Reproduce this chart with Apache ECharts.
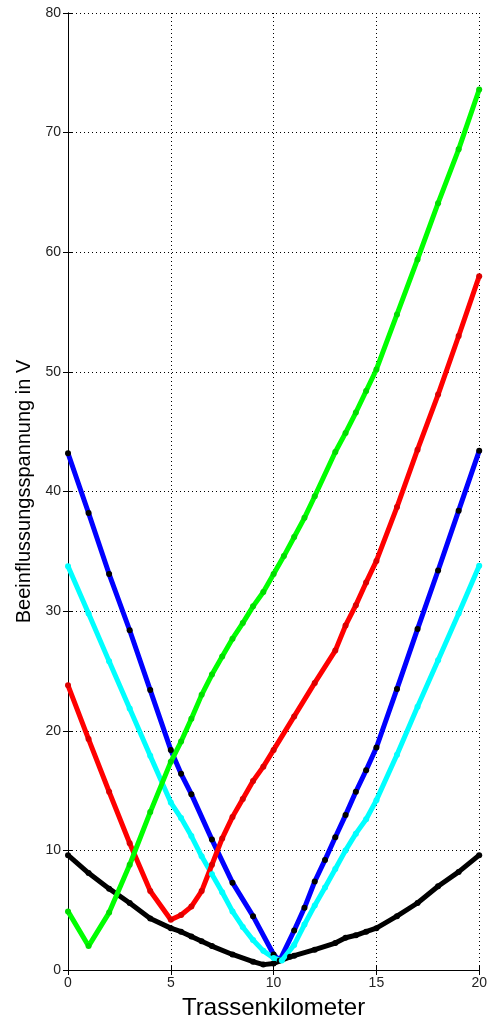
<!DOCTYPE html>
<html>
<head>
<meta charset="utf-8">
<script src="https://cdn.jsdelivr.net/npm/echarts@6/dist/echarts.min.js"></script>
<style>
  html, body { margin: 0; padding: 0; background: #fff; }
  #main { width: 490px; height: 1025px; }
</style>
</head>
<body>
<div id="main"></div>
<script>
// Messwerte je Leiter (km-Position und Spannung in V)
const blackKm = [0, 1, 2, 3, 4, 5, 5.5, 6, 6.5, 7, 8, 9, 9.5, 10, 10.8, 11, 12, 13, 13.5, 14, 14.5, 15, 16, 17, 18, 19, 20];
const blackV = [9.6, 8.1, 6.8, 5.6, 4.3, 3.5, 3.2, 2.8, 2.4, 2.0, 1.3, 0.7, 0.45, 0.55, 1.1, 1.2, 1.7, 2.25, 2.7, 2.9, 3.2, 3.5, 4.5, 5.6, 7.0, 8.2, 9.6];

const blueKm = [0, 1, 2, 3, 4, 5, 5.5, 6, 7, 8, 9, 10, 10.3, 11, 11.5, 12, 12.5, 13, 13.5, 14, 14.5, 15, 16, 17, 18, 19, 20];
const blueV = [43.2, 38.2, 33.1, 28.4, 23.4, 18.4, 16.4, 14.7, 10.9, 7.3, 4.5, 1.3, 0.8, 3.3, 5.2, 7.4, 9.2, 11.1, 12.95, 14.9, 16.7, 18.6, 23.5, 28.5, 33.4, 38.4, 43.4];

const cyanKm = [0, 1, 2, 3, 4, 5, 5.5, 6, 6.5, 7, 7.5, 8, 8.5, 9, 9.5, 10, 10.4, 11, 11.5, 12, 12.5, 13, 13.5, 14, 14.5, 15, 16, 17, 18, 19, 20];
const cyanV = [33.75, 29.8, 25.8, 21.85, 17.9, 14.0, 12.7, 11.2, 9.5, 8.0, 6.5, 4.9, 3.6, 2.5, 1.6, 1.0, 0.8, 2.1, 3.8, 5.4, 6.9, 8.45, 10.0, 11.4, 12.6, 14.2, 18.0, 22.0, 25.9, 29.8, 33.8];

const redKm = [0, 1, 2, 3, 4, 5, 5.5, 6, 6.5, 7, 7.5, 8, 8.5, 9, 9.5, 10, 11, 12, 13, 13.5, 14, 14.5, 15, 16, 17, 18, 19, 20];
const redV = [23.8, 19.3, 14.9, 10.6, 6.6, 4.2, 4.6, 5.3, 6.6, 8.8, 11.0, 12.8, 14.3, 15.8, 17.0, 18.4, 21.2, 24.0, 26.7, 28.8, 30.5, 32.4, 34.2, 38.7, 43.5, 48.1, 53.0, 58.0];

const greenKm = [0, 1, 2, 3, 4, 5, 5.5, 6, 6.5, 7, 7.5, 8, 8.5, 9, 9.5, 10, 10.5, 11, 11.5, 12, 13, 13.5, 14, 14.5, 15, 16, 17, 18, 19, 20];
const greenV = [4.9, 2.0, 4.8, 8.8, 13.2, 17.4, 19.1, 21.0, 23.0, 24.7, 26.2, 27.7, 29.0, 30.4, 31.6, 33.1, 34.6, 36.2, 37.8, 39.6, 43.3, 44.9, 46.6, 48.4, 50.2, 54.8, 59.4, 64.1, 68.6, 73.6];

function pairs(km, v) {
  return km.map((k, i) => [k, v[i]]);
}

function line(data, color, markColor) {
  return {
    type: 'line',
    data: data,
    symbol: 'circle',
    symbolSize: 6,
    lineStyle: { color: color, width: 5 },
    itemStyle: { color: markColor || color },
    xAxisIndex: 0,
    yAxisIndex: 0
  };
}

let myChart = echarts.init(document.getElementById('main'));

const font = 'Liberation Sans, Arial, sans-serif';
const dotted = { type: [1, 3], color: '#000', width: 1 };

let option = {
  animation: false,
  backgroundColor: '#fff',
  grid: { left: 68, right: 4, top: 13, bottom: 53 },
  xAxis: [{
    type: 'value',
    min: 0, max: 20, interval: 5,
    name: 'Trassenkilometer',
    nameLocation: 'middle',
    nameGap: 26,
    nameTextStyle: { fontFamily: font, fontSize: 24, color: '#000' },
    axisLine: { lineStyle: { color: '#000', width: 1 } },
    axisTick: { inside: true, length: 5, lineStyle: { color: '#000' } },
    axisLabel: { fontFamily: font, fontSize: 14, color: '#222', margin: 6 },
    splitLine: { show: true, lineStyle: dotted }
  }, {
    type: 'value',
    position: 'top',
    min: 0, max: 20, interval: 5,
    axisLine: { show: true, lineStyle: { color: '#000', width: 1 } },
    axisTick: { inside: true, length: 5, lineStyle: { color: '#000' } },
    axisLabel: { show: false },
    splitLine: { show: false }
  }],
  yAxis: [{
    type: 'value',
    min: 0, max: 80, interval: 10,
    name: 'Beeinflussungsspannung in V',
    nameLocation: 'middle',
    nameGap: 32,
    nameTextStyle: { fontFamily: font, fontSize: 20, color: '#000' },
    axisLine: { show: true, lineStyle: { color: '#000', width: 1 } },
    axisTick: { show: true, inside: true, length: 5, lineStyle: { color: '#000' } },
    axisLabel: { fontFamily: font, fontSize: 14, color: '#222', margin: 7 },
    splitLine: { show: true, lineStyle: dotted }
  }, {
    type: 'value',
    position: 'right',
    min: 0, max: 80, interval: 10,
    axisLine: { show: true, lineStyle: { color: '#000', width: 1 } },
    axisTick: { show: true, inside: true, length: 5, lineStyle: { color: '#000' } },
    axisLabel: { show: false },
    splitLine: { show: false }
  }],
  series: [
    line(pairs(blackKm, blackV), '#000000'),
    line(pairs(blueKm, blueV), '#0000ff', '#000000'),
    line(pairs(cyanKm, cyanV), '#00ffff'),
    line(pairs(redKm, redV), '#ff0000', '#dd0000'),
    line(pairs(greenKm, greenV), '#00ff00', '#00dd00')
  ]
};

myChart.setOption(option);
</script>
</body>
</html>
